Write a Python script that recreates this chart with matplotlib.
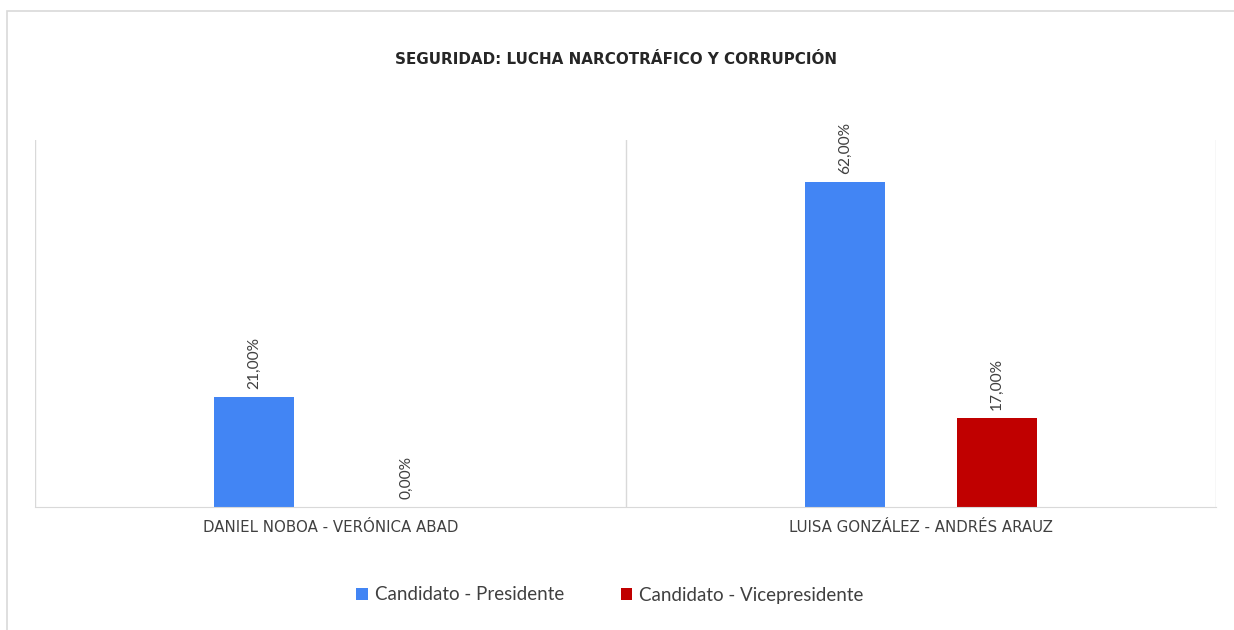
import matplotlib.pyplot as plt
from matplotlib.patches import Rectangle

categories = ['DANIEL NOBOA - VERÓNICA ABAD', 'LUISA GONZÁLEZ - ANDRÉS ARAUZ']
presidente = [21.0, 62.0]
vicepresidente = [0.0, 17.0]
series_names = ['Candidato - Presidente', 'Candidato - Vicepresidente']
title = 'SEGURIDAD: LUCHA NARCOTRÁFICO Y CORRUPCIÓN'

blue = '#4285F4'
red = '#C00000'
text_col = '#404040'

plt.rcParams['font.family'] = ['Lato', 'DejaVu Sans']

fig = plt.figure(figsize=(12.34, 6.30), dpi=100)
# outer chart frame
fig.patches.append(Rectangle((7 / 1234, -0.01), 1.02, 1 - 11 / 630 + 0.01,
                             transform=fig.transFigure, fill=False,
                             edgecolor='#D9D9D9', linewidth=1.2))

ax = fig.add_axes([35 / 1234, 1 - 507 / 630, (1216 - 35) / 1234, (507 - 140) / 630])

x = range(len(categories))
w = 0.1355
off = 0.129
b1 = ax.bar([i - off for i in x], presidente, w, color=blue, label=series_names[0])
b2 = ax.bar([i + off for i in x], vicepresidente, w, color=red, label=series_names[1])

for bars, vals in ((b1, presidente), (b2, vicepresidente)):
    for rect, v in zip(bars, vals):
        ax.annotate(f'{v:.2f}%'.replace('.', ','),
                    (rect.get_x() + rect.get_width() / 2, rect.get_height()),
                    xytext=(0, 6), textcoords='offset points',
                    rotation=90, ha='center', va='bottom',
                    fontsize=11.2, color=text_col)

ax.set_xlim(-0.5, 1.5)
ax.set_ylim(0, 70)
ax.set_yticks([])
ax.set_xticks(list(x))
# wide face stands in for the letter-spaced labels
ax.set_xticklabels(categories, fontsize=10.8, color=text_col, family=['DejaVu Sans'])
ax.tick_params(axis='x', length=0, pad=9)

for s in ('top', 'right', 'left'):
    ax.spines[s].set_visible(False)
ax.spines['bottom'].set_color('#D9D9D9')
for xv in (-0.5, 0.5, 1.5):
    ax.axvline(xv, color='#D9D9D9', linewidth=1)

fig.text(616 / 1234, 1 - 60 / 630, title, ha='center', va='center',
         fontsize=10.9, fontweight='bold', color='#262626',
         family=['DejaVu Sans'])

fig.legend(loc='center', bbox_to_anchor=(610 / 1234, 1 - 595 / 630), ncol=2,
           frameon=False, fontsize=13.5, handlelength=0.6, handleheight=0.6,
           handletextpad=0.4, columnspacing=3.0, labelcolor=text_col)

fig.savefig('out.png', dpi=100)
